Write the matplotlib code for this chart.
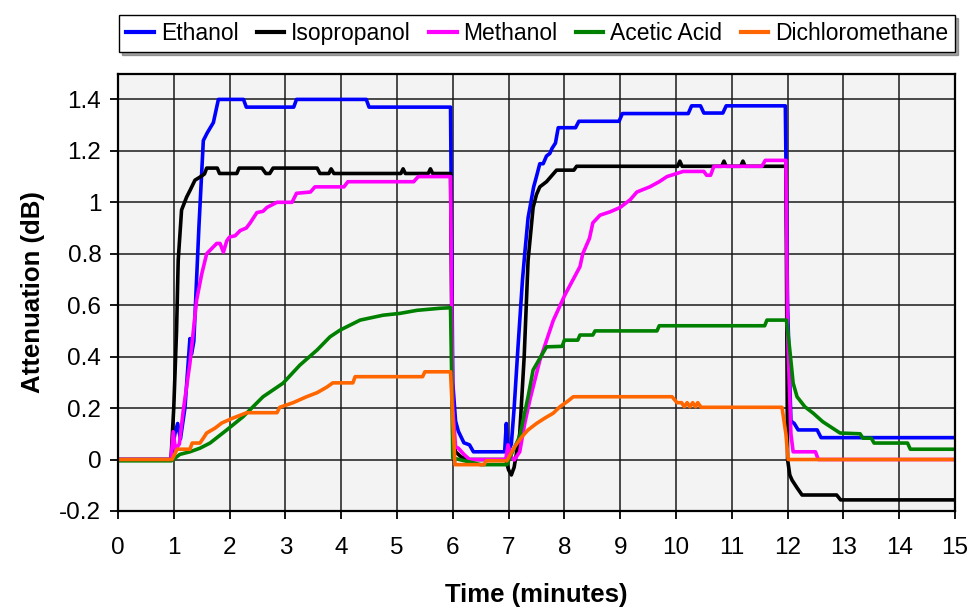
import numpy as np
import matplotlib.pyplot as plt
from matplotlib.ticker import FuncFormatter

plt.rcParams['font.family'] = ['Liberation Sans', 'DejaVu Sans']
plt.rcParams['axes.unicode_minus'] = False

# sensor response, time in minutes / attenuation in dB
ethanol_t = [0, 0.95, 1.02, 1.07, 1.12, 1.2, 1.29, 1.32, 1.36, 1.45, 1.53, 1.6, 1.71, 1.8,
             2.25, 2.3, 3.15, 3.2, 4.45, 4.5, 5.96, 6.0, 6.05, 6.1, 6.2, 6.3, 6.37, 6.93,
             6.96, 6.99, 7.05, 7.1, 7.17, 7.25, 7.29, 7.35, 7.45, 7.5, 7.56, 7.62, 7.68,
             7.74, 7.78, 7.84, 7.89, 8.2, 8.26, 8.98, 9.04, 10.22, 10.28, 10.44, 10.5,
             10.84, 10.9, 11.96, 12.0, 12.06, 12.12, 12.19, 12.53, 12.6, 15]
ethanol_v = [0, 0, 0.1, 0.14, 0.08, 0.2, 0.47, 0.41, 0.46, 0.9, 1.24, 1.27, 1.31, 1.4,
             1.4, 1.37, 1.37, 1.4, 1.4, 1.37, 1.37, 0.3, 0.15, 0.11, 0.065, 0.057, 0.03, 0.03,
             0.14, 0.03, 0.06, 0.2, 0.44, 0.7, 0.8, 0.94, 1.06, 1.1, 1.15, 1.15, 1.18,
             1.19, 1.21, 1.23, 1.29, 1.29, 1.315, 1.315, 1.345, 1.345, 1.375, 1.375, 1.347,
             1.347, 1.375, 1.375, 0.6, 0.15, 0.14, 0.115, 0.115, 0.085, 0.085]

iso_t = [0, 0.95, 1.0, 1.05, 1.08, 1.14, 1.23, 1.3, 1.38, 1.47, 1.55, 1.59, 1.78, 1.82,
         2.13, 2.17, 2.58, 2.65, 2.72, 2.78, 3.57, 3.62, 3.78, 3.82, 3.87, 5.07, 5.11,
         5.15, 5.56, 5.6, 5.64, 5.96, 6.0, 6.05, 6.15, 6.3, 6.95, 7.0, 7.05, 7.1, 7.2,
         7.28, 7.35, 7.44, 7.5, 7.56, 7.68, 7.8, 7.86, 8.17, 8.22, 10.03, 10.07, 10.11,
         10.82, 10.86, 10.9, 11.16, 11.2, 11.24, 11.97, 12.0, 12.04, 12.08, 12.17, 12.26,
         12.88, 12.95, 15]
iso_v = [0, 0, 0.2, 0.5, 0.775, 0.97, 1.02, 1.05, 1.086, 1.098, 1.11, 1.133, 1.133, 1.112,
         1.112, 1.133, 1.133, 1.112, 1.112, 1.133, 1.133, 1.112, 1.112, 1.13, 1.112, 1.112, 1.13,
         1.112, 1.112, 1.13, 1.112, 1.112, 0.1, 0.03, 0.01, 0.0, 0.0, -0.04, -0.06, -0.03, 0.1,
         0.4, 0.775, 0.98, 1.03, 1.06, 1.08, 1.11, 1.125, 1.125, 1.14, 1.14, 1.16, 1.14,
         1.14, 1.16, 1.14, 1.14, 1.16, 1.14, 1.14, 0.0, -0.06, -0.08, -0.11, -0.138,
         -0.138, -0.157, -0.157]

meth_t = [0, 0.95, 0.99, 1.03, 1.1, 1.17, 1.29, 1.41, 1.5, 1.59, 1.68, 1.77, 1.83, 1.89,
          1.95, 2.0, 2.1, 2.19, 2.3, 2.37, 2.49, 2.6, 2.67, 2.85, 3.12, 3.2, 3.45, 3.53,
          4.05, 4.12, 5.3, 5.38, 5.96, 6.0, 6.05, 6.1, 6.2, 6.3, 6.95, 6.99, 7.05, 7.1,
          7.2, 7.29, 7.38, 7.56, 7.8, 8.01, 8.28, 8.33, 8.45, 8.51, 8.64, 8.82, 9.0, 9.18,
          9.3, 9.53, 9.7, 9.84, 10.13, 10.5, 10.55, 10.62, 10.68, 11.54, 11.6, 11.97, 12.0,
          12.06, 12.1, 12.5, 12.55, 15]
meth_v = [0, 0, 0.108, 0.04, 0.06, 0.19, 0.375, 0.62, 0.72, 0.8, 0.82, 0.84, 0.84, 0.806,
          0.85, 0.865, 0.87, 0.89, 0.9, 0.92, 0.96, 0.965, 0.98, 1.0, 1.0, 1.035, 1.04, 1.06,
          1.06, 1.08, 1.08, 1.1, 1.1, 0.2, 0.05, 0.044, 0.02, 0.0, 0.0, 0.057, 0.01, -0.002,
          0.03, 0.14, 0.23, 0.385, 0.54, 0.64, 0.75, 0.8, 0.86, 0.92, 0.95, 0.963, 0.98, 1.01,
          1.04, 1.06, 1.08, 1.1, 1.12, 1.12, 1.105, 1.105, 1.14, 1.14, 1.163, 1.163, 0.5,
          0.1, 0.03, 0.03, 0.0, 0.0]

acetic_t = [0, 0.96, 1.11, 1.29, 1.47, 1.65, 1.95, 2.24, 2.6, 2.96, 3.26, 3.57, 3.8, 3.98,
            4.34, 4.75, 5.05, 5.36, 5.77, 5.96, 5.99, 6.0, 6.5, 6.97, 7.03, 7.2, 7.35, 7.44,
            7.68, 7.96, 8.0, 8.24, 8.28, 8.51, 8.55, 9.66, 9.7, 11.59, 11.63, 11.98, 12.04,
            12.1, 12.17, 12.31, 12.46, 12.63, 12.94, 13.3, 13.35, 13.5, 13.55, 14.15, 14.2, 15]
acetic_v = [-0.005, -0.005, 0.02, 0.03, 0.044, 0.064, 0.115, 0.166, 0.244, 0.297, 0.367,
            0.426, 0.477, 0.503, 0.542, 0.561, 0.568, 0.58, 0.588, 0.59, 0.2, 0.006, -0.02,
            -0.02, 0.011, 0.09, 0.244, 0.348, 0.438, 0.44, 0.464, 0.464, 0.484, 0.484, 0.5,
            0.5, 0.52, 0.52, 0.542, 0.542, 0.426, 0.297, 0.244, 0.205, 0.18, 0.147, 0.103,
            0.1, 0.083, 0.083, 0.064, 0.064, 0.04, 0.04]

dcm_t = [0, 0.97, 1.06, 1.29, 1.33, 1.47, 1.53, 1.59, 1.74, 1.86, 2.06, 2.31, 2.85, 2.9,
         3.14, 3.38, 3.57, 3.74, 3.85, 4.21, 4.25, 5.46, 5.5, 5.96, 6.04, 6.56, 6.6, 6.97,
         7.11, 7.24, 7.35, 7.5, 7.65, 7.8, 7.92, 8.05, 8.16, 9.93, 10.02, 10.1, 10.15,
         10.2, 10.25, 10.3, 10.35, 10.39, 10.45, 11.9, 11.97, 12.01, 15]
dcm_v = [0, 0, 0.04, 0.04, 0.064, 0.064, 0.083, 0.103, 0.122, 0.142, 0.161, 0.182, 0.182,
         0.203, 0.221, 0.244, 0.26, 0.281, 0.298, 0.298, 0.322, 0.322, 0.341, 0.341, -0.02,
         -0.02, -0.005, -0.005, 0.05, 0.089, 0.115, 0.14, 0.161, 0.18, 0.205, 0.225, 0.244,
         0.244, 0.221, 0.221, 0.205, 0.221, 0.205, 0.221, 0.205, 0.221, 0.203, 0.203, 0.1,
         0.0, 0.0]

series = [
    ("Ethanol", ethanol_t, ethanol_v, "#0000ff"),
    ("Isopropanol", iso_t, iso_v, "#000000"),
    ("Methanol", meth_t, meth_v, "#ff00ff"),
    ("Acetic Acid", acetic_t, acetic_v, "#008000"),
    ("Dichloromethane", dcm_t, dcm_v, "#ff6600"),
]

fig = plt.figure(figsize=(9.7, 6.09), dpi=100)
ax = fig.add_axes([0.1216, 0.161, 0.8629, 0.718])
ax.set_facecolor("#f3f3f3")

for name, t, v, c in series:
    ax.plot(t, v, color=c, lw=2.6, label=name, solid_joinstyle="round")

ax.set_xlim(0, 15)
ax.set_ylim(-0.2, 1.5)
ax.set_xticks(np.arange(0, 16, 1))
ax.set_yticks(np.arange(-0.2, 1.41, 0.2))
ax.yaxis.set_major_formatter(FuncFormatter(lambda y, p: "%g" % round(y, 1)))
ax.grid(True, color="#1a1a1a", lw=1.1)
ax.set_axisbelow(True)
for s in ax.spines.values():
    s.set_linewidth(1.6)
ax.tick_params(axis="both", labelsize=17.5, length=6, width=1.3, direction="out")
ax.tick_params(axis="x", pad=13)
ax.tick_params(axis="y", pad=6)

ax.set_xlabel("Time (minutes)", fontsize=18.5, fontweight="bold", labelpad=17)
ax.set_ylabel("Attenuation (dB)", fontsize=18.5, fontweight="bold", labelpad=10)

leg = fig.legend(loc="upper right", bbox_to_anchor=(0.9845, 0.9754), ncol=5,
                 fontsize=16.5, frameon=True, fancybox=False, shadow=True,
                 handlelength=1.2, handletextpad=0.3, columnspacing=0.8,
                 borderpad=0.3, borderaxespad=0)
leg.get_frame().set_edgecolor("black")
leg.get_frame().set_linewidth(1.0)
for h in leg.get_lines():
    h.set_linewidth(3)

fig.savefig("out.png", dpi=100)
